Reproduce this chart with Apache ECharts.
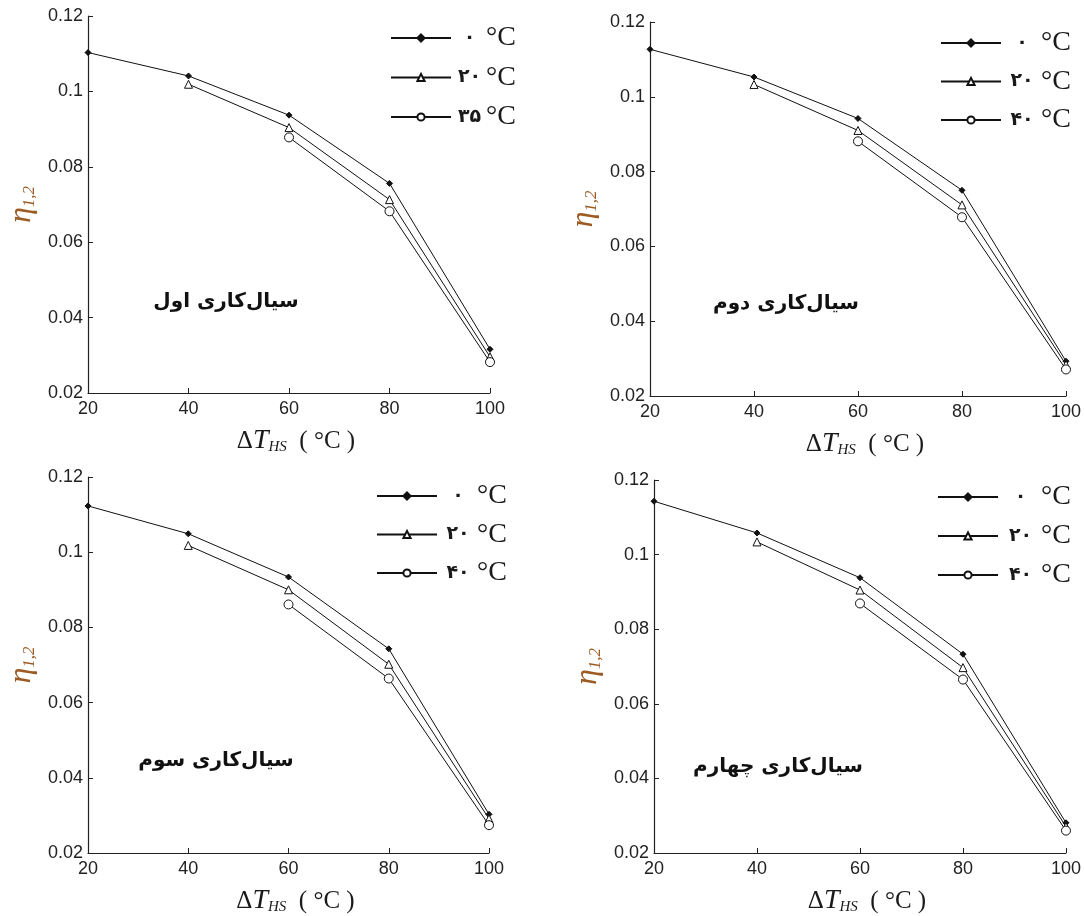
<!DOCTYPE html>
<html>
<head>
<meta charset="utf-8">
<script src="https://cdn.jsdelivr.net/npm/echarts@6/dist/echarts.min.js"></script>
<style>
  html, body { margin: 0; padding: 0; background: #fff; }
  #chart { width: 1084px; height: 916px; }
</style>
</head>
<body>
<div id="chart"></div>
<script>
// ---- data ----
const xValues = [20, 40, 60, 80, 100];
const yTicks = { min: 0.02, max: 0.12, interval: 0.02 };

const panelTitles = ['سیال‌کاری اول', 'سیال‌کاری دوم', 'سیال‌کاری سوم', 'سیال‌کاری چهارم'];

const names1 = ['۰°C', '۲۰°C', '۳۵°C'];
const names2 = ['۰°C', '۲۰°C', '۴۰°C'];
const names3 = ['۰°C', '۲۰°C', '۴۰°C'];
const names4 = ['۰°C', '۲۰°C', '۴۰°C'];

const p1_t0  = [0.1103, 0.1041, 0.0937, 0.0756, 0.0316];
const p1_t20 = [null,   0.1019, 0.0904, 0.0713, 0.0296];
const p1_t35 = [null,   null,   0.0878, 0.0682, 0.0282];

const p2_t0  = [0.1127, 0.1053, 0.0942, 0.0750, 0.0293];
const p2_t20 = [null,   0.1033, 0.0910, 0.0711, 0.0284];
const p2_t40 = [null,   null,   0.0881, 0.0678, 0.0271];

const p3_t0  = [0.1123, 0.1049, 0.0934, 0.0743, 0.0303];
const p3_t20 = [null,   0.1018, 0.0900, 0.0702, 0.0291];
const p3_t40 = [null,   null,   0.0861, 0.0664, 0.0274];

const p4_t0  = [0.1143, 0.1058, 0.0938, 0.0733, 0.0281];
const p4_t20 = [null,   0.1034, 0.0905, 0.0697, 0.0271];
const p4_t40 = [null,   null,   0.0869, 0.0665, 0.0260];

// ---- layout / style ----
const panels = [
  { grid: { left: 88, top: 16, width: 402, height: 377 }, legend: { left: 390, top: 24, gap: 11.5, w: 27 },
    names: names1, series: [p1_t0, p1_t20, p1_t35], title: [226, 302] },
  { grid: { left: 650, top: 22, width: 416, height: 374 }, legend: { left: 940, top: 29, gap: 10.5, w: 32 },
    names: names2, series: [p2_t0, p2_t20, p2_t40], title: [786, 304] },
  { grid: { left: 88, top: 477, width: 401, height: 376 }, legend: { left: 376, top: 482, gap: 10.5, w: 32 },
    names: names3, series: [p3_t0, p3_t20, p3_t40], title: [216, 761] },
  { grid: { left: 654, top: 480, width: 412, height: 376 }, legend: { left: 937, top: 483, gap: 11, w: 35 },
    names: names4, series: [p4_t0, p4_t20, p4_t40], title: [778, 767] }
];

const markerStyles = [
  { symbol: 'diamond', symbolSize: 6, filled: true },
  { symbol: 'triangle', symbolSize: 8, filled: false },
  { symbol: 'circle', symbolSize: 9, filled: false }
];

const INK = '#111';
const option = {
  backgroundColor: '#fff',
  animation: false,
  grid: [], xAxis: [], yAxis: [], series: [], legend: [], graphic: []
};

panels.forEach((p, i) => {
  option.grid.push(Object.assign({ containLabel: false }, p.grid));
  option.xAxis.push({
    type: 'value', gridIndex: i, min: 20, max: 100, interval: 20,
    axisLine: { show: true, onZero: false, lineStyle: { color: '#222', width: 1.2 } },
    axisTick: { show: true, inside: true, length: 5, lineStyle: { color: '#222' } },
    splitLine: { show: false },
    axisLabel: { color: '#222', fontFamily: 'Liberation Sans', fontSize: 18, margin: 7 },
    name: '{d|Δ}{t|T}{s|HS}{p|  ( °C )}',
    nameLocation: 'middle', nameGap: 34,
    nameTextStyle: {
      rich: {
        d: { fontFamily: 'Liberation Serif', fontSize: 25, color: '#1a1a1a', padding: [0, 0, 0, 14] },
        t: { fontFamily: 'Liberation Serif', fontStyle: 'italic', fontSize: 28, color: '#1a1a1a' },
        s: { fontFamily: 'Liberation Serif', fontStyle: 'italic', fontSize: 15, color: '#1a1a1a', verticalAlign: 'bottom', padding: [8, 0, 0, 0] },
        p: { fontFamily: 'Liberation Serif', fontSize: 25, color: '#1a1a1a' }
      }
    }
  });
  option.yAxis.push({
    type: 'value', gridIndex: i, min: yTicks.min, max: yTicks.max, interval: yTicks.interval,
    axisLine: { show: true, onZero: false, lineStyle: { color: '#222', width: 1.2 } },
    axisTick: { show: true, inside: true, length: 5, lineStyle: { color: '#222' } },
    splitLine: { show: false },
    axisLabel: { color: '#222', fontFamily: 'Liberation Sans', fontSize: 18, margin: 5,
      formatter: v => String(parseFloat(v.toFixed(4))) },
    name: '{e|η}{s|1,2}',
    nameLocation: 'middle', nameGap: 50,
    nameTextStyle: {
      rich: {
        e: { fontFamily: 'Liberation Serif', fontStyle: 'italic', fontSize: 32, color: '#9c5b23' },
        s: { fontFamily: 'Liberation Serif', fontStyle: 'italic', fontSize: 17, color: '#9c5b23', verticalAlign: 'bottom', padding: [10, 0, 0, 0] }
      }
    }
  });
  p.series.forEach((vals, k) => {
    const m = markerStyles[k];
    const data = [];
    vals.forEach((v, j) => { if (v !== null) data.push([xValues[j], v]); });
    option.series.push({
      type: 'line', name: p.names[k], xAxisIndex: i, yAxisIndex: i, data: data,
      symbol: m.symbol, symbolSize: m.symbolSize, showSymbol: true,
      lineStyle: { color: INK, width: 1 },
      itemStyle: { color: m.filled ? INK : '#fff', borderColor: INK, borderWidth: 1 },
      z: 3 + k
    });
  });
  option.legend.push({
    orient: 'vertical', left: p.legend.left, top: p.legend.top, itemGap: p.legend.gap,
    padding: 0,
    itemWidth: 60, itemHeight: 9, data: p.names, selectedMode: false,
    formatter: n => '{d|' + n.replace('°C', '') + '}{u|°C}',
    textStyle: {
      rich: {
        d: { fontFamily: 'DejaVu Sans', fontWeight: 'bold', fontSize: 19, color: '#1a1a1a', width: p.legend.w, align: 'right', lineHeight: 28, padding: [0, 3, 0, 0] },
        u: { fontFamily: 'Liberation Serif', fontSize: 28, color: '#1a1a1a', lineHeight: 28 }
      }
    }
  });
  option.graphic.push({
    type: 'text', x: p.title[0], y: p.title[1],
    style: { text: panelTitles[i], fill: '#111', font: 'bold 20px "DejaVu Sans"', align: 'center', verticalAlign: 'middle' }
  });
});

const chart = echarts.init(document.getElementById('chart'), null, { renderer: 'canvas' });
chart.setOption(option);
</script>
</body>
</html>
